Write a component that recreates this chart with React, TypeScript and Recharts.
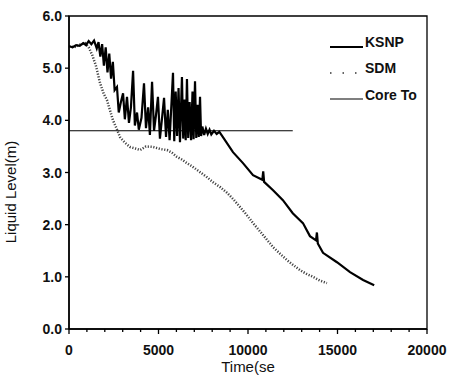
import { Legend, Line, LineChart, ReferenceArea, XAxis, YAxis } from "recharts"

// KSNP calculation (time in s, level in m)
const ksnpTime = [
  0, 200, 400, 600, 800, 950, 1100, 1250, 1400, 1550, 1650, 1750, 1850, 1950, 2050, 2150, 2250,
  2350, 2450, 2550, 2680, 2780, 2900, 3020, 3120, 3240, 3350, 3460, 3580, 3680, 3800, 3900, 4050,
  4190, 4300, 4420, 4520, 4640, 4750, 4860, 4970, 5080, 5200, 5310, 5420, 5520, 5620, 5720, 5810,
  5880, 5960, 6040, 6120, 6200, 6310, 6380, 6460, 6520, 6590, 6660, 6740, 6820, 6900, 6960, 7040,
  7110, 7180, 7250, 7320, 7380, 7450, 7550, 7650, 7750, 7850, 7950, 8100, 8250, 8400, 8600, 9160,
  9720, 10280, 10800, 10850, 10900, 11400, 11950, 12500, 13070, 13460, 13800, 13850, 13900, 14190,
  14970, 15700, 16430, 17050,
]
const ksnpLevel = [
  5.42, 5.4, 5.44, 5.43, 5.48, 5.44, 5.52, 5.46, 5.53, 5.38, 5.5, 5.22, 5.46, 5.05, 5.4, 4.92, 5.28,
  4.8, 5.12, 4.58, 4.64, 4.15, 4.35, 4.52, 4.02, 4.45, 3.95, 4.25, 4.95, 3.9, 4.15, 3.82, 4.05,
  4.71, 3.85, 4.25, 3.72, 4.74, 3.8, 4.1, 4.45, 3.65, 4.05, 4.43, 3.68, 4.2, 3.62, 4.3, 4.91,
  3.6, 4.55, 3.7, 4.62, 3.58, 4.83, 3.65, 4.4, 3.62, 4.79, 3.66, 4.35, 3.62, 4.55, 3.64, 4.75,
  3.66, 4.3, 3.68, 4.45, 3.7, 3.88, 3.72, 3.84, 3.74, 3.82, 3.73, 3.8, 3.74, 3.78, 3.68, 3.39,
  3.18, 2.95, 2.86, 3.02, 2.82, 2.66, 2.47, 2.22, 2.03, 1.78, 1.7, 1.85, 1.64, 1.46,
  1.28, 1.09, 0.94, 0.84,
]

// SDM calculation
const sdmTime = [
  0, 300, 600, 900, 1100, 1300, 1500, 1730, 1950, 2120, 2300, 2460, 2650, 2850, 3100, 3400, 3700,
  3970, 4300, 4690, 5100, 5480, 5750, 6030, 6300, 6590, 6870, 7150, 7430, 7710, 8100, 8450, 8830,
  9200, 9550, 9900, 10280, 10650, 11060, 11400, 11800, 12180, 12550, 12900, 13250, 13630, 14000,
  14410,
]
const sdmLevel = [
  5.42, 5.4, 5.45, 5.48, 5.4, 5.25, 5.05, 4.72, 4.5, 4.39, 4.18, 4.0, 3.85, 3.68, 3.58, 3.49, 3.46,
  3.43, 3.5, 3.49, 3.45, 3.43, 3.38, 3.3, 3.25, 3.18, 3.12, 3.05, 2.98, 2.91, 2.8, 2.72, 2.61,
  2.48, 2.34, 2.2, 2.03, 1.88, 1.71, 1.57, 1.44, 1.32, 1.22, 1.13, 1.06, 1.0, 0.93,
  0.88,
]

// core top elevation
const coreTime = [0, 12500]
const coreLevel = [3.8, 3.8]

const xTicks = [
  0, 1000, 2000, 3000, 4000, 5000, 6000, 7000, 8000, 9000, 10000, 11000, 12000, 13000, 14000, 15000,
  16000, 17000, 18000, 19000, 20000,
]
const yTicks = [0, 1, 2, 3, 4, 5, 6]

const ksnp = ksnpTime.map((t, i) => ({ t, v: ksnpLevel[i] }))
const sdm = sdmTime.map((t, i) => ({ t, v: sdmLevel[i] }))
const core = coreTime.map((t, i) => ({ t, v: coreLevel[i] }))

const font = "'Liberation Sans', Arial, sans-serif"

const XTick = (props: any) => {
  const { x, y, payload } = props
  const major = payload.value % 5000 === 0
  return (
    <g>
      <line x1={x} x2={x} y1={y} y2={y + (major ? 5 : 3)} stroke="#000" strokeWidth={1.3} />
      {major && (
        <text x={x} y={y + 26} textAnchor="middle" fontFamily={font} fontSize={14} fontWeight="bold" fill="#111">
          {payload.value}
        </text>
      )}
    </g>
  )
}

const YTick = (props: any) => {
  const { x, y, payload } = props
  return (
    <g>
      <line x1={x - 4} x2={x} y1={y} y2={y} stroke="#000" strokeWidth={1.3} />
      <text x={x - 7} y={y + 5} textAnchor="end" fontFamily={font} fontSize={14} fontWeight="bold" fill="#111">
        {payload.value.toFixed(1)}
      </text>
    </g>
  )
}

const LegendBox = () => (
  <svg width={110} height={80} style={{ display: "block" }}>
    <line x1={5} x2={38} y1={17} y2={17} stroke="#000" strokeWidth={1.8} />
    <text x={40} y={17} fontFamily={font} fontSize={14} fontWeight="bold" fill="#111">KSNP</text>
    <line x1={5} x2={36} y1={43} y2={43} stroke="#333" strokeWidth={1.3} strokeDasharray="1.5 11" />
    <text x={40} y={43} fontFamily={font} fontSize={14} fontWeight="bold" fill="#111">SDM</text>
    <line x1={5} x2={38} y1={69} y2={69} stroke="#000" strokeWidth={1.2} />
    <text x={40} y={70} fontFamily={font} fontSize={14} fontWeight="bold" fill="#111">Core To</text>
  </svg>
)

export default function App() {
  return (
    <div style={{ position: "absolute", left: 0, top: 0, background: "#fff" }}>
      <LineChart width={458} height={382} margin={{ top: 16, right: 31, bottom: 23, left: 0 }}>
        <XAxis
          dataKey="t"
          type="number"
          domain={[0, 20000]}
          ticks={xTicks}
          interval={0}
          tickSize={0}
          tickMargin={0}
          tick={<XTick />}
          height={30}
          axisLine={{ stroke: "#000", strokeWidth: 1.5 }}
          allowDuplicatedCategory={false}
          label={{
            content: () => (
              <text x={248} y={372} textAnchor="middle" fontFamily={font} fontSize={15} fill="#111">
                Time(se
              </text>
            ),
          }}
        />
        <YAxis
          type="number"
          domain={[0, 6]}
          ticks={yTicks}
          interval={0}
          tickSize={0}
          tickMargin={0}
          tick={<YTick />}
          width={69}
          axisLine={{ stroke: "#000", strokeWidth: 1.5 }}
          label={{
            content: () => (
              <text
                x={16}
                y={192}
                textAnchor="middle"
                transform="rotate(-90, 16, 192)"
                fontFamily={font}
                fontSize={15}
                fill="#111"
              >
                Liquid Level(m)
              </text>
            ),
          }}
        />
        <ReferenceArea
          x1={0}
          x2={20000}
          y1={0}
          y2={6}
          fill="none"
          fillOpacity={0}
          stroke="#000"
          strokeWidth={1.3}
          ifOverflow="visible"
        />
        <Legend
          layout="vertical"
          align="center"
          verticalAlign="middle"
          wrapperStyle={{ left: 325, top: 30, width: 110 }}
          content={() => <LegendBox />}
        />
        <Line
          data={sdm}
          dataKey="v"
          type="linear"
          stroke="#444"
          strokeWidth={2.5}
          strokeDasharray="1.2 1.6"
          dot={false}
          isAnimationActive={false}
        />
        <Line
          data={core}
          dataKey="v"
          type="linear"
          stroke="#000"
          strokeWidth={1.2}
          dot={false}
          isAnimationActive={false}
        />
        <Line
          data={ksnp}
          dataKey="v"
          type="linear"
          stroke="#000"
          strokeWidth={2.2}
          dot={false}
          isAnimationActive={false}
        />
      </LineChart>
    </div>
  )
}
